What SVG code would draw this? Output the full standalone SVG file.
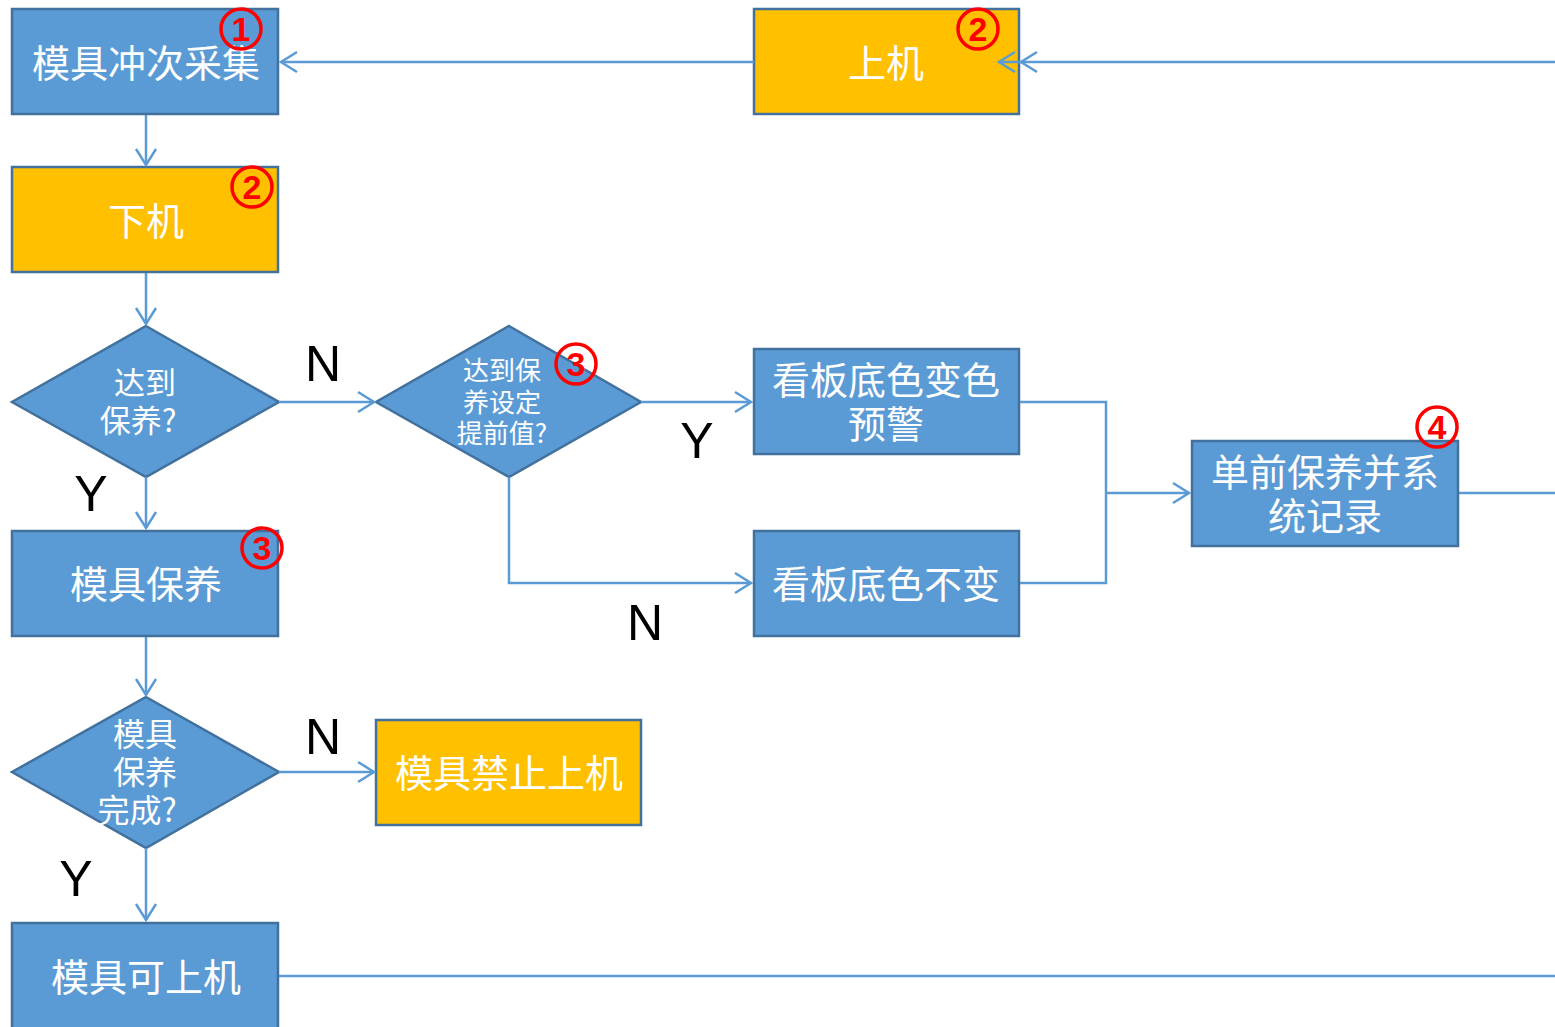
<svg xmlns="http://www.w3.org/2000/svg" width="1555" height="1027" viewBox="0 0 1555 1027">
<style>
.b{fill:#5B9BD5;stroke:#41719C;stroke-width:2.5}
.y{fill:#FFC000;stroke:#41719C;stroke-width:2.5}
.t{fill:#fff;font-family:"Noto Sans CJK SC","Noto Sans",sans-serif;text-anchor:middle}
.c{fill:none;stroke:#5B9BD5;stroke-width:2.5}
.l{font-family:"Liberation Sans",Arial,sans-serif;font-size:50px;fill:#000;text-anchor:middle}
.rc{fill:none;stroke:#FF0000;stroke-width:3.5}
.rn{fill:#FF0000;font-family:"Liberation Sans",Arial,sans-serif;font-weight:bold;font-size:34px;text-anchor:middle}
</style>
<defs>
<marker id="a" markerUnits="userSpaceOnUse" markerWidth="24" markerHeight="26" refX="18" refY="12" orient="auto" viewBox="0 0 24 26">
<path d="M2,2 L18,12 L2,22" fill="none" stroke="#5B9BD5" stroke-width="2.5"/>
</marker>
</defs>
<g id="n1"><rect class="b" x="12" y="9" width="266" height="105"/><text class="t" x="146" y="77" font-size="38">模具冲次采集</text></g>
<g id="n2"><rect class="y" x="754" y="9" width="265" height="105"/><text class="t" x="886" y="77" font-size="38">上机</text></g>
<g id="n3"><rect class="y" x="12" y="167" width="266" height="105"/><text class="t" x="146" y="235" font-size="38">下机</text></g>
<g id="n4"><polygon class="b" points="146,326 279,402 146,477 12,402"/><text class="t" font-size="31"><tspan x="145" y="394">达到</tspan><tspan x="138" y="432">保养?</tspan></text></g>
<g id="n5"><polygon class="b" points="509,326 641,402 509,477 376,402"/><text class="t" font-size="26"><tspan x="502" y="380">达到保</tspan><tspan x="502" y="412">养设定</tspan><tspan x="502" y="443">提前值?</tspan></text></g>
<g id="n6"><rect class="b" x="754" y="349" width="265" height="105"/><text class="t" font-size="38"><tspan x="886" y="394">看板底色变色</tspan><tspan x="886" y="438">预警</tspan></text></g>
<g id="n7"><rect class="b" x="754" y="531" width="265" height="105"/><text class="t" x="886" y="598" font-size="38">看板底色不变</text></g>
<g id="n8"><rect class="b" x="1192" y="441" width="266" height="105"/><text class="t" font-size="38"><tspan x="1325" y="486">单前保养并系</tspan><tspan x="1325" y="530">统记录</tspan></text></g>
<g id="n9"><rect class="b" x="12" y="531" width="266" height="105"/><text class="t" x="146" y="598" font-size="38">模具保养</text></g>
<g id="n10"><polygon class="b" points="146,697 279,772 146,848 12,772"/><text class="t" font-size="32"><tspan x="145" y="746">模具</tspan><tspan x="145" y="784">保养</tspan><tspan x="137" y="822">完成?</tspan></text></g>
<g id="n11"><rect class="y" x="376" y="720" width="265" height="105"/><text class="t" x="509" y="787" font-size="38">模具禁止上机</text></g>
<g id="n12"><rect class="b" x="12" y="923" width="266" height="110"/><text class="t" x="146" y="991" font-size="38">模具可上机</text></g>
<g id="connectors">
<path class="c" d="M754,62 H281" marker-end="url(#a)"/>
<path class="c" d="M1555,62 H1021" marker-end="url(#a)"/>
<path class="c" d="M1021,62 H999" marker-end="url(#a)"/>
<path class="c" d="M146,115 V165" marker-end="url(#a)"/>
<path class="c" d="M146,273 V324" marker-end="url(#a)"/>
<path class="c" d="M279,402 H374" marker-end="url(#a)"/>
<path class="c" d="M641,402 H751" marker-end="url(#a)"/>
<path class="c" d="M509,477 V583 H751" marker-end="url(#a)"/>
<path class="c" d="M1020,402 H1106 V583 H1020"/>
<path class="c" d="M1106,493 H1189" marker-end="url(#a)"/>
<path class="c" d="M1459,493 H1555"/>
<path class="c" d="M146,477 V528" marker-end="url(#a)"/>
<path class="c" d="M146,637 V695" marker-end="url(#a)"/>
<path class="c" d="M279,772 H374" marker-end="url(#a)"/>
<path class="c" d="M146,848 V920" marker-end="url(#a)"/>
<path class="c" d="M279,976 H1555"/>
</g>
<g id="labels">
<text class="l" x="323" y="381">N</text>
<text class="l" x="697" y="458">Y</text>
<text class="l" x="91" y="511">Y</text>
<text class="l" x="645" y="640">N</text>
<text class="l" x="323" y="754">N</text>
<text class="l" x="76" y="896">Y</text>
</g>
<g id="marks">
<circle class="rc" cx="241" cy="29" r="20"/><text class="rn" x="241" y="41">1</text>
<circle class="rc" cx="978" cy="29" r="20"/><text class="rn" x="978" y="41">2</text>
<circle class="rc" cx="252" cy="187" r="20"/><text class="rn" x="252" y="199">2</text>
<circle class="rc" cx="576" cy="364" r="20"/><text class="rn" x="576" y="376">3</text>
<circle class="rc" cx="262" cy="548" r="20"/><text class="rn" x="262" y="560">3</text>
<circle class="rc" cx="1437" cy="427" r="20"/><text class="rn" x="1437" y="439">4</text>
</g>
</svg>
